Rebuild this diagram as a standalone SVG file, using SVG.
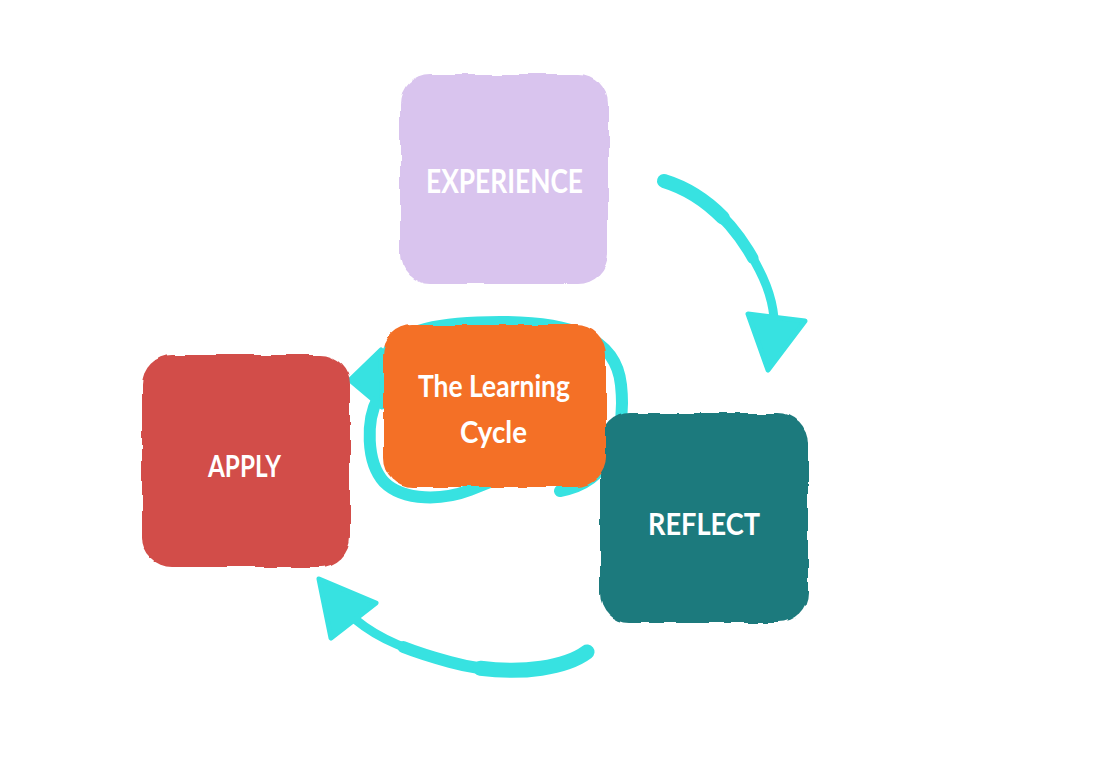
<svg xmlns="http://www.w3.org/2000/svg" width="1098" height="766" viewBox="0 0 1098 766">
  <defs>
    <filter id="rough" x="-5%" y="-5%" width="110%" height="110%">
      <feTurbulence type="fractalNoise" baseFrequency="0.035" numOctaves="2" seed="4" result="n"/>
      <feDisplacementMap in="SourceGraphic" in2="n" scale="6" xChannelSelector="R" yChannelSelector="G"/>
    </filter>
    <style>
      .card { filter: url(#rough); }
      .lbl { font-family: "Lato", "Open Sans", "Liberation Sans", sans-serif; font-weight: 700; fill: #ffffff; text-anchor: middle; }
      .brush { fill: none; stroke: #37E2E1; stroke-linecap: round; stroke-linejoin: round; }
      .head { fill: #37E2E1; stroke: #37E2E1; stroke-width: 5; stroke-linejoin: round; }
    </style>
  </defs>
  <rect width="1098" height="766" fill="#ffffff"/>

  <g id="connectors">
    <!-- Experience to Reflect -->
    <path class="brush" d="M 664 181 C 700 192 728 218 748 250 C 764 276 772 296 774 318" stroke-width="9"/>
    <path class="brush" d="M 664 181 C 700 192 728 218 748 250 C 764 276 772 296 774 318" stroke-width="11.5" stroke-dasharray="120 1000"/>
    <path class="brush" d="M 664 181 C 700 192 728 218 748 250 C 764 276 772 296 774 318" stroke-width="14" stroke-dasharray="70 1000"/>
    <polygon class="head" points="748,314 805,321 768,370"/>
    <!-- Reflect to Apply -->
    <path class="brush" d="M 587 652 C 560 672 500 676 450 662 C 410 651 380 640 356 620" stroke-width="9"/>
    <path class="brush" d="M 587 652 C 560 672 500 676 450 662 C 410 651 380 640 356 620" stroke-width="12" stroke-dasharray="190 1000"/>
    <path class="brush" d="M 587 652 C 560 672 500 676 450 662 C 410 651 380 640 356 620" stroke-width="15" stroke-dasharray="110 1000"/>
    <polygon class="head" points="319,579 376,603 331,638"/>
    <!-- central loop -->
    <path class="brush" d="M 560 491 C 612 482 626 432 621 385 C 616 336 568 322 500 322 C 440 322 400 330 388 352" stroke-width="12"/>
    <path class="brush" d="M 378 398 C 366 420 366 462 384 482 C 404 502 444 500 470 490 L 500 478" stroke-width="12"/>
    <polygon class="head" points="350,380 381,350 382,407"/>
  </g>

  <g id="node-experience">
    <rect class="card" x="400" y="74" width="208" height="210" rx="30" fill="#D9C4EE"/>
    <text class="lbl" x="504.5" y="193" font-size="32" textLength="157" lengthAdjust="spacingAndGlyphs">EXPERIENCE</text>
  </g>

  <g id="node-apply">
    <rect class="card" x="142" y="355" width="208" height="212" rx="30" fill="#D24E49"/>
    <text class="lbl" x="244.5" y="477" font-size="31" textLength="73" lengthAdjust="spacingAndGlyphs">APPLY</text>
  </g>

  <g id="node-reflect">
    <rect class="card" x="600" y="413" width="208" height="210" rx="30" fill="#1F7A7D"/>
    <text class="lbl" x="704" y="535" font-size="31" textLength="112" lengthAdjust="spacingAndGlyphs">REFLECT</text>
  </g>

  <g id="node-center">
    <rect class="card" x="383" y="325" width="223" height="162" rx="30" fill="#F46F27"/>
    <text class="lbl" x="494" y="397" font-size="31" textLength="152" lengthAdjust="spacingAndGlyphs">The Learning</text>
    <text class="lbl" x="493.5" y="443" font-size="31" textLength="67" lengthAdjust="spacingAndGlyphs">Cycle</text>
  </g>
</svg>
